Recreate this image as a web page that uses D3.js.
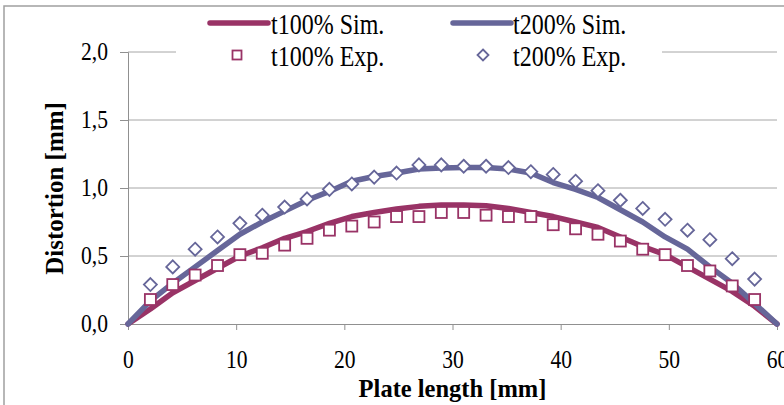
<!DOCTYPE html>
<html>
<head>
<meta charset="utf-8">
<script src="https://cdn.jsdelivr.net/npm/d3@7"></script>
<style>
  html, body { margin: 0; padding: 0; background: #fff; }
  svg { display: block; }
  text { font-family: "Liberation Serif", "Times New Roman", serif; fill: #000; }
</style>
</head>
<body>
<svg id="chart" width="784" height="405"></svg>
<script>
// ---- data ----
const xPositions = [0, 2.069, 4.138, 6.207, 8.276, 10.345, 12.414, 14.483, 16.552, 18.621,
  20.690, 22.759, 24.828, 26.897, 28.966, 31.034, 33.103, 35.172, 37.241, 39.310,
  41.379, 43.448, 45.517, 47.586, 49.655, 51.724, 53.793, 55.862, 57.931, 60];
const t100Sim = [0, 0.11, 0.23, 0.32, 0.41, 0.50, 0.56, 0.63, 0.68, 0.74,
  0.79, 0.82, 0.845, 0.865, 0.875, 0.875, 0.87, 0.85, 0.82, 0.79,
  0.75, 0.71, 0.64, 0.57, 0.51, 0.42, 0.33, 0.24, 0.13, 0];
const t200Sim = [0, 0.17, 0.30, 0.42, 0.54, 0.66, 0.75, 0.83, 0.91, 0.975,
  1.05, 1.085, 1.11, 1.14, 1.147, 1.15, 1.15, 1.14, 1.11, 1.04,
  0.99, 0.93, 0.84, 0.75, 0.64, 0.55, 0.42, 0.30, 0.15, 0];
// experimental points at xPositions[1..28]
const t100Exp = [0.18, 0.29, 0.36, 0.43, 0.51, 0.52, 0.58, 0.63, 0.69, 0.72,
  0.75, 0.79, 0.79, 0.82, 0.82, 0.80, 0.79, 0.79, 0.73, 0.70,
  0.66, 0.61, 0.55, 0.51, 0.43, 0.39, 0.28, 0.18];
const t200Exp = [0.29, 0.42, 0.55, 0.64, 0.74, 0.80, 0.86, 0.92, 0.99, 1.03,
  1.08, 1.11, 1.17, 1.17, 1.16, 1.16, 1.15, 1.12, 1.10, 1.05,
  0.98, 0.91, 0.85, 0.77, 0.69, 0.62, 0.48, 0.33];
const xTicks = [0, 10, 20, 30, 40, 50, 60];
const yTicks = [0, 0.5, 1.0, 1.5, 2.0];
const seriesNames = ["t100% Sim.", "t200% Sim.", "t100% Exp.", "t200% Exp."];

const c100 = "#993366", c200 = "#666699";

const svg = d3.select("#chart");
const W = 784, H = 405;
const plot = { left: 128, right: 777, top: 52, bottom: 324 };

const x = d3.scaleLinear().domain([0, 60]).range([plot.left, plot.right]);
const y = d3.scaleLinear().domain([0, 2]).range([plot.bottom, plot.top]);

// outer chart border (partially visible)
svg.append("rect").attr("x", 4).attr("y", 6).attr("width", W + 20).attr("height", H + 20)
  .attr("fill", "#fff").attr("stroke", "#a0a0a0").attr("stroke-width", 1.5);

// gridlines
svg.append("g").selectAll("line").data(yTicks.filter(d => d > 0)).join("line")
  .attr("x1", plot.left).attr("x2", plot.right)
  .attr("y1", d => y(d)).attr("y2", d => y(d))
  .attr("stroke", "#a6a6a6").attr("stroke-width", 1);

// tick label font: slightly tall glyphs (horizontally condensed)
const tickFont = 24.5, tickSX = 0.88;

// y axis
const fmt = d => d3.format(".1f")(d).replace(".", ",");
const yAxis = svg.append("g").attr("transform", `translate(${plot.left},0)`)
  .call(d3.axisLeft(y).tickValues(yTicks).tickFormat(fmt).tickSize(8).tickPadding(12));
yAxis.select(".domain").attr("stroke", "#909090");
yAxis.selectAll(".tick line").attr("stroke", "#909090");
yAxis.selectAll(".tick text")
  .attr("font-size", tickFont)
  .attr("x", -20 / tickSX).attr("transform", `scale(${tickSX},1)`);

// x axis
const xAxis = svg.append("g").attr("transform", `translate(0,${plot.bottom})`)
  .call(d3.axisBottom(x).tickValues(xTicks).tickFormat(d3.format("d")).tickSize(6).tickPadding(21));
xAxis.select(".domain").attr("stroke", "#909090");
xAxis.selectAll(".tick line").attr("stroke", "#909090");
xAxis.selectAll(".tick text")
  .attr("font-size", tickFont)
  .attr("transform", `scale(${tickSX},1)`);
svg.selectAll("g").attr("font-family", null);

// axis titles
svg.append("text").attr("transform", `translate(${(plot.left + plot.right) / 2},397)`)
  .attr("text-anchor", "middle").attr("font-size", 24.5).attr("font-weight", "bold")
  .text("Plate length [mm]");
svg.append("text").attr("transform", `translate(63,188.5) rotate(-90) scale(0.96,1)`)
  .attr("text-anchor", "middle").attr("font-size", 26).attr("font-weight", "bold")
  .text("Distortion [mm]");

// lines
const line = d3.line().x((d, i) => x(xPositions[i])).y(d => y(d));
svg.append("path").datum(t100Sim).attr("d", line)
  .attr("fill", "none").attr("stroke", c100).attr("stroke-width", 5.5).attr("stroke-linejoin", "round").attr("stroke-linecap", "round");
svg.append("path").datum(t200Sim).attr("d", line)
  .attr("fill", "none").attr("stroke", c200).attr("stroke-width", 5.5).attr("stroke-linejoin", "round").attr("stroke-linecap", "round");

// markers
const expX = xPositions.slice(1, 29);
const sq = 11;
svg.append("g").selectAll("rect").data(t100Exp).join("rect")
  .attr("x", (d, i) => x(expX[i]) - sq / 2).attr("y", d => y(d) - sq / 2)
  .attr("width", sq).attr("height", sq)
  .attr("fill", "#fff").attr("stroke", c100).attr("stroke-width", 1.8);
const dm = 6.5;
svg.append("g").selectAll("path").data(t200Exp).join("path")
  .attr("d", (d, i) => {
    const cx = x(expX[i]), cy = y(d);
    return `M${cx},${cy - dm}L${cx + dm},${cy}L${cx},${cy + dm}L${cx - dm},${cy}Z`;
  })
  .attr("fill", "#fff").attr("stroke", c200).attr("stroke-width", 1.8);

// legend
const lg = svg.append("g");
lg.append("rect").attr("x", 176).attr("y", 8).attr("width", 486).attr("height", 60).attr("fill", "#fff");
const rows = [
  { name: seriesNames[0], type: "line", color: c100, lx: 210, tx: 271, cy: 23 },
  { name: seriesNames[1], type: "line", color: c200, lx: 453, tx: 513, cy: 23 },
  { name: seriesNames[2], type: "square", color: c100, lx: 208, tx: 271, cy: 55 },
  { name: seriesNames[3], type: "diamond", color: c200, lx: 454, tx: 513, cy: 55 }
];
rows.forEach(r => {
  if (r.type === "line") {
    lg.append("line").attr("x1", r.lx).attr("x2", r.lx + 58).attr("y1", r.cy).attr("y2", r.cy)
      .attr("stroke", r.color).attr("stroke-width", 5.5).attr("stroke-linecap", "round");
  } else if (r.type === "square") {
    lg.append("rect").attr("x", r.lx + 29 - 4.5).attr("y", r.cy - 4.5).attr("width", 9).attr("height", 9)
      .attr("fill", "#fff").attr("stroke", r.color).attr("stroke-width", 1.8);
  } else {
    const cx = r.lx + 29, cy = r.cy, s = 5.5;
    lg.append("path").attr("d", `M${cx},${cy - s}L${cx + s},${cy}L${cx},${cy + s}L${cx - s},${cy}Z`)
      .attr("fill", "#fff").attr("stroke", r.color).attr("stroke-width", 1.8);
  }
  lg.append("text").attr("transform", `translate(${r.tx},${r.cy}) scale(0.8,1)`).attr("dy", "0.35em")
    .attr("font-size", 30).text(r.name);
});
</script>
</body>
</html>
